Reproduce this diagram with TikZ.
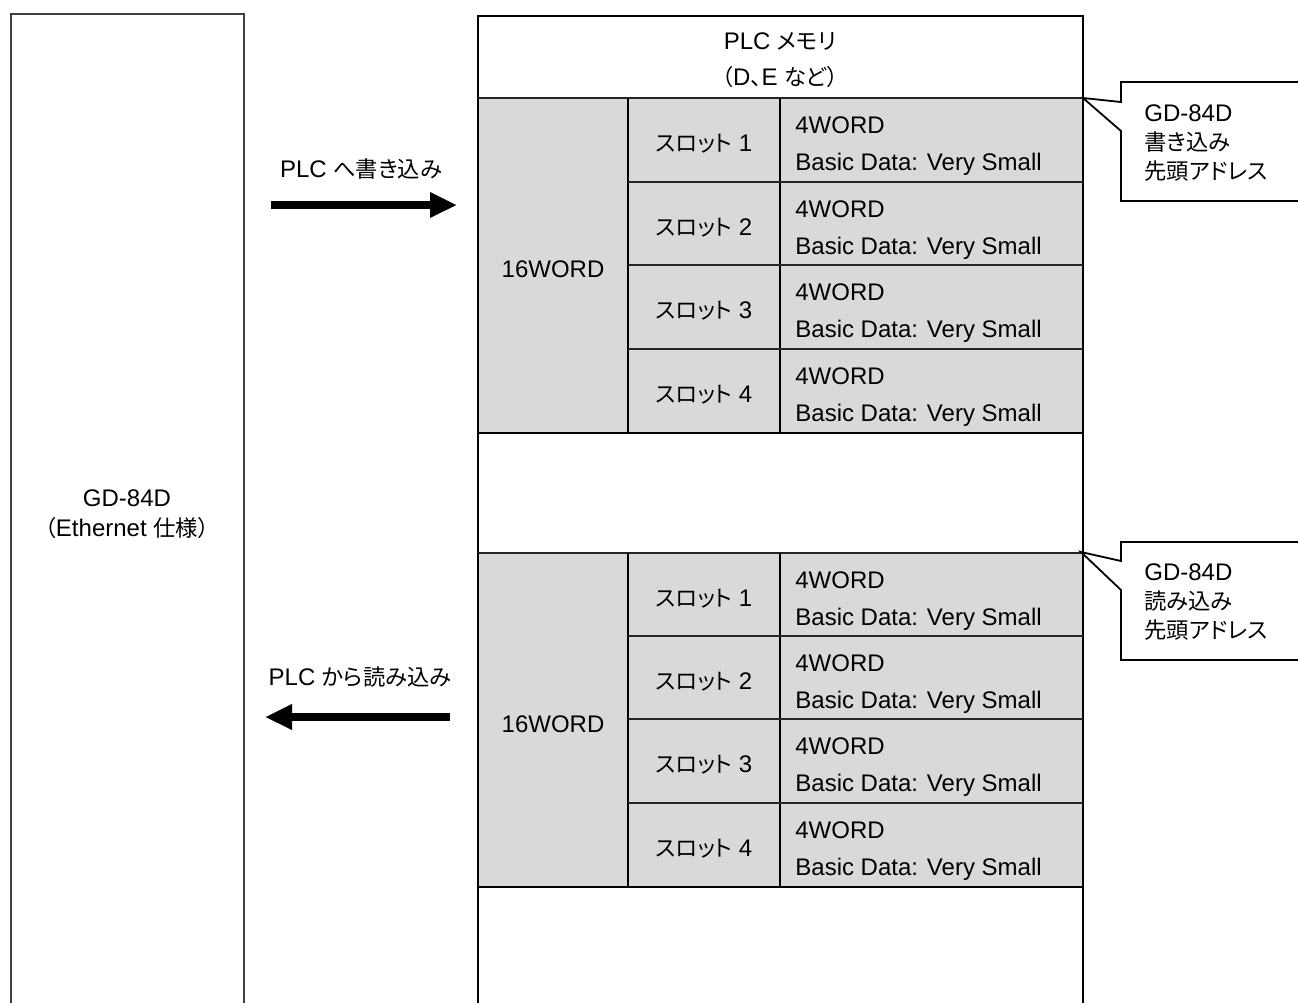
\documentclass[tikz,border=0pt]{standalone}
\usepackage{fontspec}
\setmainfont{Liberation Sans}
\newfontfamily\jp[Scale=0.93,RawFeature=+palt]{Noto Sans CJK JP}
\usetikzlibrary{arrows.meta}
\definecolor{cellgray}{HTML}{D9D9D9}
\begin{document}
\begin{tikzpicture}[x=0.5pt,y=-0.5pt,
  txt/.style={inner sep=0pt, font=\fontsize{12}{14}\selectfont},
  frame/.style={draw=black, line width=1pt},
  thinline/.style={draw=black!85, line width=0.75pt},
  midline/.style={draw=black, line width=1pt},
  boldline/.style={draw=black, line width=1.25pt},
  bigarrow/.style={line width=4pt, -{Triangle[length=13.5pt,width=12pt]}},
  callout/.style={draw=black, line width=0.9pt}]
\useasboundingbox (0,0) rectangle (1298,1003);
\begin{scope}
\clip (0,0) rectangle (1298,1003);
% left device box
\draw[frame, draw=black!75] (11,14) rectangle (244,1020);
% memory fills
\fill[cellgray] (478,98) rectangle (1083,433);
\fill[cellgray] (478,553) rectangle (1083,887);
% memory frame
\draw[frame] (478,16) rectangle (1083,1020);
% horizontal separators
\draw[thinline] (478,98) -- (1083,98);
\draw[boldline] (478,433) -- (1083,433);
\draw[thinline] (478,553) -- (1083,553);
\draw[boldline] (478,887) -- (1083,887);
% column dividers
\draw[midline] (628,98) -- (628,433);
\draw[midline] (780,98) -- (780,433);
\draw[midline] (628,553) -- (628,887);
\draw[midline] (780,553) -- (780,887);
% slot row lines
\foreach \yy in {182,265,349,636,719,803}
  \draw[thinline] (628,\yy) -- (1083,\yy);
% callouts
\draw[callout] (1310,82) -- (1121,82) -- (1121,102) -- (1083,98) -- (1121,131) -- (1121,201) -- (1310,201);
\draw[callout] (1310,542) -- (1121,542) -- (1121,561) -- (1081,552) -- (1121,590) -- (1121,660) -- (1310,660);
\end{scope}

% left device label
\node[txt, anchor=base] (dev1) at (127,506) {GD-84D};
\node[txt, anchor=base] (dev2) at (127,536) {{\jp （}Ethernet {\jp 仕様）}};

% memory header
\node[txt, anchor=base] (mem1) at (780,49) {PLC {\jp メモリ}};
\node[txt, anchor=base] (mem2) at (780,85) {{\jp （}D{\jp 、}E {\jp など）}};

% 16WORD labels
\node[txt, anchor=base] (w16a) at (553,277) {16WORD};
\node[txt, anchor=base] (w16b) at (553,732) {16WORD};

% slots upper
\foreach \t/\i in {98/1,182/2,265/3,349/4}{
  \node[txt, anchor=base] (sa\i) at (704,\t+53) {{\jp スロット} \i};
  \node[txt, anchor=base west] (wa\i) at (795,\t+35) {4WORD};
  \node[txt, anchor=base west] (ba\i) at (795,\t+72) {Basic Data: Very Small};
}
% slots lower
\foreach \t/\i in {553/1,636/2,719/3,803/4}{
  \node[txt, anchor=base] (sb\i) at (704,\t+53) {{\jp スロット} \i};
  \node[txt, anchor=base west] (wb\i) at (795,\t+35) {4WORD};
  \node[txt, anchor=base west] (bb\i) at (795,\t+72) {Basic Data: Very Small};
}

% callout texts
\node[txt, anchor=base west] (ca1) at (1144,121) {GD-84D};
\node[txt, anchor=base west] (ca2) at (1144,150) {\jp 書き込み};
\node[txt, anchor=base west] (ca3) at (1144,179) {\jp 先頭アドレス};
\node[txt, anchor=base west] (cb1) at (1144,580) {GD-84D};
\node[txt, anchor=base west] (cb2) at (1144,609) {\jp 読み込み};
\node[txt, anchor=base west] (cb3) at (1144,638) {\jp 先頭アドレス};

% arrows
\coordinate (wtail) at (271,205);
\coordinate (whead) at (457,205);
\coordinate (rtail) at (450,717);
\coordinate (rhead) at (265,717);
\draw[bigarrow] (wtail) -- (whead);
\draw[bigarrow] (rtail) -- (rhead);
\node[txt, anchor=base] (wlbl) at (361,177) {PLC {\jp へ書き込み}};
\node[txt, anchor=base] (rlbl) at (360,685) {PLC {\jp から読み込み}};
\end{tikzpicture}
\end{document}
